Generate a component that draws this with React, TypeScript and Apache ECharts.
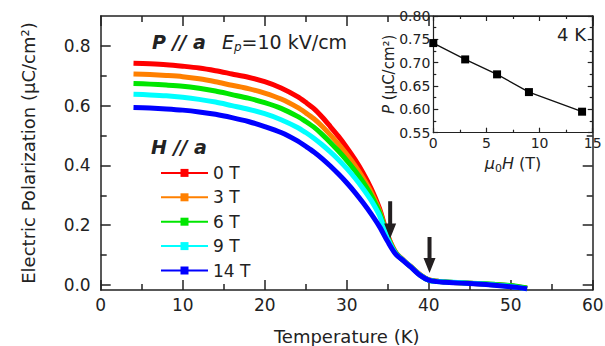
import React, { useEffect, useRef } from 'react';
import * as echarts from 'echarts';

const FONT = 'DejaVu Sans';
const INK = '#222';

// Main panel: temperature (K) and polarization (μC/cm²) for each field
const TEMPS = [4, 6, 8, 10, 12, 14, 16, 18, 20, 22, 24, 25, 26, 27, 28, 29, 30, 31, 32, 33, 34, 35, 36, 37, 38, 39, 40, 41, 42, 44, 46, 48, 50, 51, 52];
const P_0T = [0.742, 0.740, 0.737, 0.732, 0.726, 0.717, 0.706, 0.695, 0.680, 0.659, 0.630, 0.611, 0.590, 0.562, 0.530, 0.497, 0.460, 0.420, 0.375, 0.322, 0.256, 0.167, 0.108, 0.081, 0.057, 0.033, 0.017, 0.012, 0.010, 0.007, 0.004, 0.001, -0.003, -0.007, -0.011];
const P_3T = [0.706, 0.704, 0.701, 0.697, 0.690, 0.680, 0.668, 0.657, 0.642, 0.622, 0.594, 0.576, 0.556, 0.531, 0.502, 0.471, 0.437, 0.400, 0.358, 0.310, 0.249, 0.163, 0.107, 0.080, 0.057, 0.033, 0.017, 0.012, 0.010, 0.007, 0.004, 0.000, -0.004, -0.008, -0.012];
const P_6T = [0.674, 0.672, 0.669, 0.665, 0.658, 0.649, 0.637, 0.625, 0.610, 0.591, 0.564, 0.547, 0.528, 0.504, 0.477, 0.448, 0.417, 0.383, 0.344, 0.299, 0.243, 0.160, 0.106, 0.080, 0.056, 0.032, 0.016, 0.012, 0.010, 0.007, 0.005, 0.002, -0.002, -0.006, -0.010];
const P_9T = [0.638, 0.636, 0.633, 0.628, 0.621, 0.612, 0.600, 0.588, 0.573, 0.553, 0.527, 0.510, 0.491, 0.469, 0.445, 0.419, 0.390, 0.358, 0.322, 0.282, 0.232, 0.155, 0.104, 0.080, 0.056, 0.032, 0.016, 0.011, 0.010, 0.007, 0.004, 0.000, -0.005, -0.009, -0.013];
const P_14T = [0.594, 0.592, 0.589, 0.585, 0.579, 0.571, 0.560, 0.547, 0.530, 0.510, 0.482, 0.464, 0.445, 0.423, 0.398, 0.371, 0.342, 0.310, 0.275, 0.237, 0.195, 0.145, 0.102, 0.079, 0.055, 0.031, 0.016, 0.011, 0.009, 0.006, 0.003, -0.001, -0.006, -0.009, -0.013];

const SERIES_NAMES = ['0 T', '3 T', '6 T', '9 T', '14 T'];
const SERIES_COLORS = ['#ff0000', '#ff8000', '#00e600', '#00ffff', '#0000ff'];
const SERIES_VALUES = [P_0T, P_3T, P_6T, P_9T, P_14T];

// Arrows: [temperature, top of arrow, tip of arrow]
const ARROWS = [
  [35.3, 0.28, 0.155],
  [40.1, 0.16, 0.04],
];

// Main axis ticks
const Y_MIN = -0.017;
const Y_MAX = 0.9;
const Y_MAJOR = [0, 0.2, 0.4, 0.6, 0.8];
const Y_MINOR = [0.1, 0.3, 0.5, 0.7];

// Inset: P at 4 K vs field
const FIELD = [0, 3, 6, 9, 14];
const P_4K = [0.742, 0.707, 0.675, 0.637, 0.595];

const lineSt = { color: INK, width: 1.5 };

function mainX(position: 'bottom' | 'top', labels: boolean) {
  return {
    type: 'value',
    gridIndex: 0,
    position,
    min: 0,
    max: 60,
    interval: 10,
    axisLine: { show: true, onZero: false, lineStyle: lineSt },
    axisTick: { show: true, inside: true, length: 10, lineStyle: lineSt },
    minorTick: { show: true, splitNumber: 2, length: 6, lineStyle: lineSt },
    splitLine: { show: false },
    axisLabel: { show: labels, fontSize: 17, fontFamily: FONT, color: INK, margin: 6 },
    name: labels ? 'Temperature (K)' : '',
    nameLocation: 'middle',
    nameGap: 37,
    nameMoveOverlap: false,
    nameTextStyle: { fontSize: 18, fontFamily: FONT, color: INK },
    z: 0,
  };
}

function mainY(position: 'left' | 'right', major: boolean, labels: boolean) {
  return {
    type: 'value',
    gridIndex: 0,
    position,
    min: Y_MIN,
    max: Y_MAX,
    axisLine: { show: major, onZero: false, lineStyle: lineSt },
    axisTick: { show: true, inside: true, length: major ? 10 : 6, lineStyle: lineSt, customValues: major ? Y_MAJOR : Y_MINOR },
    splitLine: { show: false },
    axisLabel: {
      show: labels,
      customValues: Y_MAJOR,
      formatter: (v: number) => v.toFixed(1),
      fontSize: 17,
      fontFamily: FONT,
      color: INK,
      margin: 10,
    },
    name: labels ? 'Electric Polarization (μC/cm²)' : '',
    nameLocation: 'middle',
    nameGap: 63,
    nameRotate: 90,
    nameMoveOverlap: false,
    nameTextStyle: { fontSize: 18, fontFamily: FONT, color: INK },
    z: 0,
  };
}

function insetX(position: 'bottom' | 'top', labels: boolean) {
  return {
    type: 'value',
    gridIndex: 1,
    position,
    min: 0,
    max: 15,
    interval: 5,
    axisLine: { show: true, onZero: false, lineStyle: { color: INK, width: 1.2 } },
    axisTick: { show: true, inside: true, length: 5, lineStyle: { color: INK, width: 1.2 } },
    minorTick: { show: true, splitNumber: 2, length: 3, lineStyle: { color: INK, width: 1.2 } },
    splitLine: { show: false },
    axisLabel: { show: labels, fontSize: 14, fontFamily: FONT, color: INK, margin: 3 },
    name: labels ? '{i|μ}{s|0}{i|H} (T)' : '',
    nameLocation: 'middle',
    nameGap: 21,
    nameMoveOverlap: false,
    nameTextStyle: {
      fontSize: 16,
      fontFamily: FONT,
      color: INK,
      rich: {
        i: { fontSize: 16, fontStyle: 'italic', fontFamily: FONT, color: INK },
        s: { fontSize: 11, fontFamily: FONT, color: INK, padding: [9, 0, 0, 0] },
      },
    },
    z: 11,
  };
}

function insetY(position: 'left' | 'right', labels: boolean) {
  return {
    type: 'value',
    gridIndex: 1,
    position,
    min: 0.55,
    max: 0.8,
    interval: 0.05,
    axisLine: { show: true, onZero: false, lineStyle: { color: INK, width: 1.2 } },
    axisTick: { show: true, inside: true, length: 5, lineStyle: { color: INK, width: 1.2 } },
    minorTick: { show: true, splitNumber: 2, length: 3, lineStyle: { color: INK, width: 1.2 } },
    splitLine: { show: false },
    axisLabel: {
      show: labels,
      formatter: (v: number) => v.toFixed(2),
      fontSize: 14,
      fontFamily: FONT,
      color: INK,
      margin: 3,
    },
    name: labels ? '{i|P} (μC/cm²)' : '',
    nameLocation: 'middle',
    nameGap: 37,
    nameRotate: 90,
    nameMoveOverlap: false,
    nameTextStyle: {
      fontSize: 15,
      fontFamily: FONT,
      color: INK,
      rich: { i: { fontSize: 15, fontStyle: 'italic', fontFamily: FONT, color: INK } },
    },
    z: 11,
  };
}

export default function App() {
  const ref = useRef<HTMLDivElement>(null);
  useEffect(() => {
    const chart = echarts.init(ref.current!, null, { renderer: 'svg' });

    const curveSeries = SERIES_NAMES.map((name, k) => ({
      type: 'line',
      name,
      xAxisIndex: 0,
      yAxisIndex: 0,
      data: TEMPS.map((t, i) => [t, SERIES_VALUES[k][i]]),
      smooth: 0.3,
      showSymbol: false,
      symbol: 'rect',
      symbolSize: 8,
      color: SERIES_COLORS[k],
      lineStyle: { color: SERIES_COLORS[k], width: 5, join: 'round', cap: 'butt' },
      itemStyle: { color: SERIES_COLORS[k] },
      z: 2 + k * 0.01,
      clip: true,
    }));

    const option: any = {
      animation: false,
      backgroundColor: '#fff',
      textStyle: { fontFamily: FONT },
      grid: [
        { left: 100.7, right: 12.3, top: 16, bottom: 56, containLabel: false, outerBoundsMode: 'none' },
        {
          left: 433.3, right: 12.3, top: 16, bottom: 213.3, containLabel: false, outerBoundsMode: 'none',
          show: true, backgroundColor: '#fff', borderWidth: 0, z: 10,
        },
      ],
      xAxis: [mainX('bottom', true), mainX('top', false), insetX('bottom', true), insetX('top', false)],
      yAxis: [
        mainY('left', true, true),
        mainY('left', false, false),
        mainY('right', true, false),
        mainY('right', false, false),
        insetY('left', true),
        insetY('right', false),
      ],
      legend: {
        data: SERIES_NAMES,
        orient: 'vertical',
        left: 160,
        top: 164.4,
        itemWidth: 47,
        itemHeight: 10,
        itemGap: 7.4,
        padding: 0,
        textStyle: { fontSize: 17, fontFamily: FONT, color: INK },
        lineStyle: { width: 2 },
        itemStyle: { borderWidth: 0 },
        selectedMode: false,
      },
      series: [
        ...curveSeries,
        {
          type: 'custom',
          name: 'arrows',
          xAxisIndex: 0,
          yAxisIndex: 0,
          data: ARROWS,
          encode: { x: 0, y: [1, 2] },
          z: 5,
          renderItem: (params: any, api: any) => {
            const top = api.coord([api.value(0), api.value(1)]);
            const tip = api.coord([api.value(0), api.value(2)]);
            const x = top[0];
            const hw = 2;
            const hh = 6;
            const hl = 15;
            return {
              type: 'polygon',
              shape: {
                points: [
                  [x - hw, top[1]],
                  [x + hw, top[1]],
                  [x + hw, tip[1] - hl],
                  [x + hh, tip[1] - hl],
                  [x, tip[1]],
                  [x - hh, tip[1] - hl],
                  [x - hw, tip[1] - hl],
                ],
              },
              style: { fill: '#231f20' },
            };
          },
        },
        {
          type: 'line',
          name: 'P at 4 K',
          xAxisIndex: 2,
          yAxisIndex: 4,
          data: FIELD.map((h, i) => [h, P_4K[i]]),
          symbol: 'rect',
          symbolSize: 8,
          showSymbol: true,
          lineStyle: { color: '#111', width: 1.3 },
          itemStyle: { color: '#000' },
          z: 12,
        },
      ],
      graphic: [
        {
          type: 'text',
          x: 152,
          y: 42,
          z: 20,
          style: { text: 'P // a', font: `italic bold 19px "${FONT}"`, fill: INK, align: 'left', verticalAlign: 'middle' },
        },
        {
          type: 'text',
          x: 222,
          y: 42,
          z: 20,
          style: {
            text: '{e|E}{p|p}{n|=10 kV/cm}',
            align: 'left',
            verticalAlign: 'middle',
            rich: {
              e: { fontSize: 19, fontStyle: 'italic', fontFamily: FONT, fill: INK },
              p: { fontSize: 12, fontStyle: 'italic', fontFamily: FONT, fill: INK, padding: [9, 0, 0, 0] },
              n: { fontSize: 19, fontFamily: FONT, fill: INK },
            },
          },
        },
        {
          type: 'text',
          x: 151,
          y: 147,
          z: 20,
          style: { text: 'H // a', font: `italic bold 19px "${FONT}"`, fill: INK, align: 'left', verticalAlign: 'middle' },
        },
        {
          type: 'text',
          x: 586,
          y: 34,
          z: 20,
          style: { text: '4 K', font: `18px "${FONT}"`, fill: INK, align: 'right', verticalAlign: 'middle' },
        },
      ],
    };

    chart.setOption(option);
    return () => chart.dispose();
  }, []);

  return <div ref={ref} style={{ position: 'fixed', left: 0, top: 0, width: 605, height: 346 }} />;
}
